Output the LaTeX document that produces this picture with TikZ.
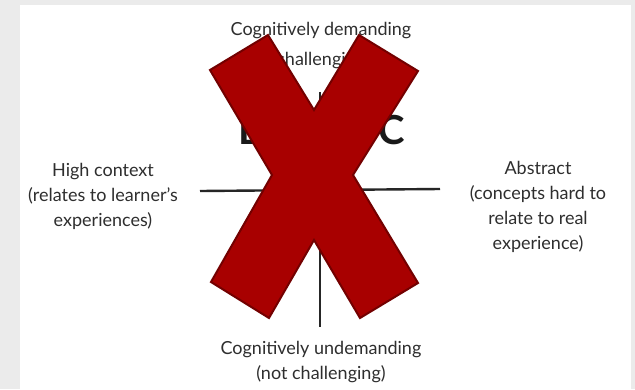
\documentclass[tikz,border=0pt]{standalone}
\usepackage{fontspec}
\setmainfont{Lato}
\begin{document}
\begin{tikzpicture}[x=1pt,y=-1pt,
  label/.style={text=black!82, font=\fontsize{18}{25}\selectfont, align=center, inner sep=0pt},
  quad/.style={text=black!90, font=\fontsize{40}{40}\selectfont\bfseries, inner sep=0pt},
  axis/.style={line width=2.4pt, black!85},
  cross/.style={fill=red!66!black, draw=red!45!black, line width=2pt, line join=miter}]
  % page and panel
  \fill[black!8] (0,0) rectangle (635,389);
  \fill[white] (20,5) rectangle (631,389);
  \useasboundingbox (0,0) rectangle (635,389);

  % axis labels
  \node[label, font=\fontsize{18}{30}\selectfont] (top) at (321,46) {Cognitively demanding\\(challenging)};
  \node[label] (bottom) at (321,362) {Cognitively undemanding\\(not challenging)};
  \node[label] (left) at (103,196) {High context\\(relates to learner's\\experiences)};
  \node[label] (right) at (538,207) {Abstract\\(concepts hard to\\relate to real\\experience)};

  % quadrant letters
  \node[quad, anchor=base] (qb) at (252,144) {B};
  \node[quad, anchor=base] (qc) at (392,144) {C};

  % axes
  \coordinate (hl) at (200,191);
  \coordinate (hr) at (440,189);
  \coordinate (vt) at (320,92);
  \coordinate (vb) at (320,327);
  \draw[axis] (hl) -- (hr);
  \draw[axis] (vt) -- (vb);

  % the red cross over everything
  \draw[cross] (210,70) -- (268,35) -- (314,110) -- (359,35) -- (418,71)
    -- (353,175) -- (418,283) -- (360,318) -- (314,240) -- (269,318)
    -- (211,282) -- (272,175) -- cycle;
\end{tikzpicture}
\end{document}
